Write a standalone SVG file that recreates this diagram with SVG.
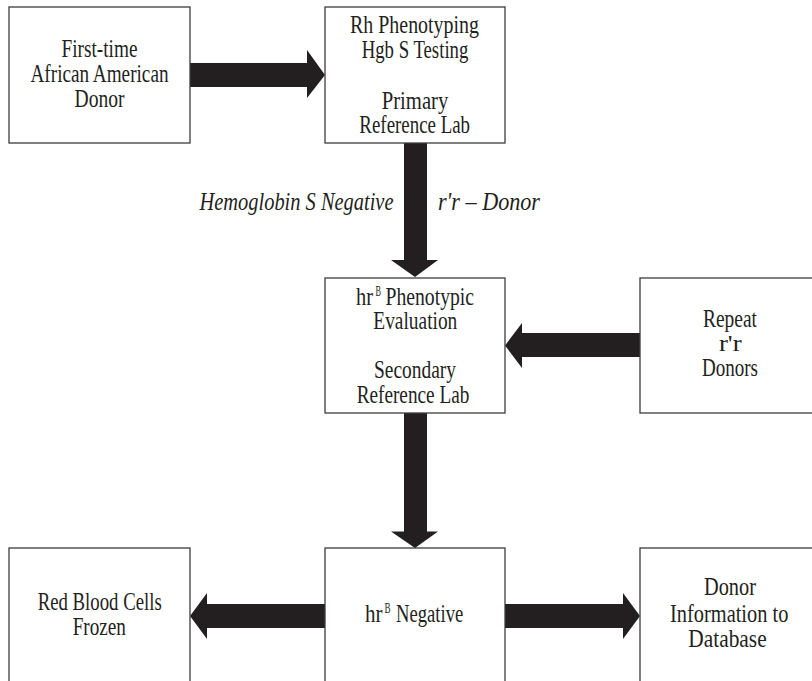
<svg xmlns="http://www.w3.org/2000/svg" width="812" height="681" viewBox="0 0 812 681">
<style>
.box{fill:#fff;stroke:#3c3c3c;stroke-width:1.3}
.t{font-family:"Liberation Serif","Times New Roman",serif;font-size:25px;fill:#231f20;text-anchor:middle}
.s{text-anchor:start}
.it{font-style:italic}
.sup{font-size:14px}
.arrow{fill:#231f20}
</style>
<rect width="812" height="681" fill="#fff"/>
<g id="connectors">
<polygon class="arrow" points="190,63 307,63 307,50 325,75 307,98 307,87 190,87"/>
<polygon class="arrow" points="404,143 427,143 427,260 438,260 415,277 391,260 404,260"/>
<polygon class="arrow" points="640,333 522,333 522,323 505,345.5 522,368 522,357 640,357"/>
<polygon class="arrow" points="404,413 427,413 427,531.5 438,531.5 415,548 391,531.5 404,531.5"/>
<polygon class="arrow" points="325,604 207,604 207,593 190,616 207,639 207,628 325,628"/>
<polygon class="arrow" points="505,604 623,604 623,593 640,616 623,639 623,628 505,628"/>
<text class="t it" x="296.5" y="210" textLength="194" lengthAdjust="spacingAndGlyphs">Hemoglobin S Negative</text>
<text class="t it" x="489" y="210" textLength="102" lengthAdjust="spacingAndGlyphs">r'r – Donor</text>
</g>
<g id="n1">
<rect class="box" x="9" y="7" width="181" height="136"/>
<text class="t" x="99.5" y="56.7" textLength="76" lengthAdjust="spacingAndGlyphs">First-time</text>
<text class="t" x="99.5" y="81.7" textLength="138" lengthAdjust="spacingAndGlyphs">African American</text>
<text class="t" x="99.5" y="106.7" textLength="50" lengthAdjust="spacingAndGlyphs">Donor</text>
</g>
<g id="n2">
<rect class="box" x="325" y="7" width="180" height="136"/>
<text class="t" x="414.5" y="33.3" textLength="129" lengthAdjust="spacingAndGlyphs">Rh Phenotyping</text>
<text class="t" x="415" y="58.3" textLength="106.7" lengthAdjust="spacingAndGlyphs">Hgb S Testing</text>
<text class="t" x="415" y="108.5" textLength="66.7" lengthAdjust="spacingAndGlyphs">Primary</text>
<text class="t" x="414.7" y="133.3" textLength="110.7" lengthAdjust="spacingAndGlyphs">Reference Lab</text>
</g>
<g id="n3">
<rect class="box" x="325" y="278" width="180" height="135"/>
<text class="t s" x="356" y="304.5" textLength="17" lengthAdjust="spacingAndGlyphs">hr</text>
<text class="t s sup" x="375.5" y="296" textLength="5.5" lengthAdjust="spacingAndGlyphs">B</text>
<text class="t s" x="385.5" y="304.5" textLength="88.5" lengthAdjust="spacingAndGlyphs">Phenotypic</text>
<text class="t" x="415.3" y="329" textLength="84" lengthAdjust="spacingAndGlyphs">Evaluation</text>
<text class="t" x="415" y="378" textLength="82" lengthAdjust="spacingAndGlyphs">Secondary</text>
<text class="t" x="413" y="402.5" textLength="112.7" lengthAdjust="spacingAndGlyphs">Reference Lab</text>
</g>
<g id="n4">
<rect class="box" x="640" y="278" width="181" height="135"/>
<text class="t" x="730" y="326.7" textLength="54" lengthAdjust="spacingAndGlyphs">Repeat</text>
<text class="t" x="730.3" y="351.2" style="font-size:23px" textLength="22.7" lengthAdjust="spacingAndGlyphs">r'r</text>
<text class="t" x="730" y="376.2" textLength="56" lengthAdjust="spacingAndGlyphs">Donors</text>
</g>
<g id="n5">
<rect class="box" x="9" y="548" width="181" height="145"/>
<text class="t" x="99.7" y="609.5" textLength="124" lengthAdjust="spacingAndGlyphs">Red Blood Cells</text>
<text class="t" x="99.3" y="634.5" textLength="53.3" lengthAdjust="spacingAndGlyphs">Frozen</text>
</g>
<g id="n6">
<rect class="box" x="325" y="548" width="180" height="145"/>
<text class="t s" x="365" y="621.7" textLength="17.5" lengthAdjust="spacingAndGlyphs">hr</text>
<text class="t s sup" x="384.5" y="613" textLength="6" lengthAdjust="spacingAndGlyphs">B</text>
<text class="t s" x="396" y="621.7" textLength="67.3" lengthAdjust="spacingAndGlyphs">Negative</text>
</g>
<g id="n7">
<rect class="box" x="640" y="548" width="181" height="145"/>
<text class="t" x="730" y="595" textLength="52" lengthAdjust="spacingAndGlyphs">Donor</text>
<text class="t" x="729.2" y="621.7" textLength="118.3" lengthAdjust="spacingAndGlyphs">Information to</text>
<text class="t" x="727.5" y="646.7" textLength="78.3" lengthAdjust="spacingAndGlyphs">Database</text>
</g>
</svg>
